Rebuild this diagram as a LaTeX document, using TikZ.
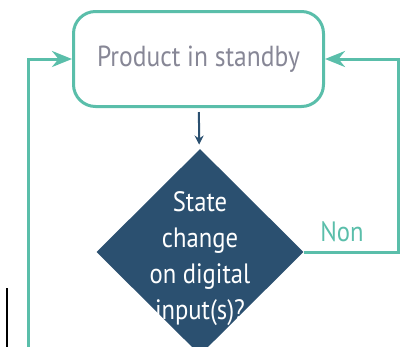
\documentclass[tikz,border=0pt]{standalone}
\usepackage{fontspec}
\setmainfont{PT Sans}
\newfontfamily\estreita[FakeStretch=0.88]{PT Sans}
\usetikzlibrary{shapes.geometric,arrows.meta}
\definecolor{verde}{RGB}{90,190,170}
\definecolor{azul}{RGB}{43,80,112}
\definecolor{cinza}{RGB}{135,135,150}
\begin{document}
\begin{tikzpicture}[x=1pt,y=-1pt]
% Estilos
\tikzset{
  estado/.style={rectangle, rounded corners=22pt, draw=verde, line width=3pt, fill=white, minimum width=250pt, minimum height=95pt, text=cinza, font=\estreita\fontsize{29}{30}\selectfont},
  decisao/.style={diamond, fill=azul, minimum width=207pt, minimum height=206pt, inner sep=0pt},
  pergunta/.style={text=white, align=center, font=\estreita\fontsize{28}{36}\selectfont},
  rotulo/.style={text=verde, font=\estreita\fontsize{28}{30}\selectfont},
  laco/.style={draw=verde, line width=3pt, -{Stealth[length=20pt,width=16pt]}},
  fluxo/.style={draw=azul, line width=2pt, -{Stealth[length=9pt,width=9pt]}, shorten <=4pt, shorten >=5pt}
}

% Moldura
\useasboundingbox (0,0) rectangle (401,346);
\clip (0,0) rectangle (401,346);

% Estado de espera
\node[estado] (standby) at (198.5,59) {Product in standby};

% Decisao
\node[decisao] (decisao) at (200,252) {};
\node[pergunta] (pergunta) at (200,259) {State\\change\\on digital\\input(s)?};

% Rotulo da saida
\node[rotulo] (non) at (342,232) {Non};

% Pontos de retorno
\coordinate (cantoDir) at (398.5,252);
\coordinate (baseEsq) at (28,360);

% Ligacoes
\draw[fluxo] (standby) -- (decisao);
\draw[laco] (decisao.east) -- (cantoDir) |- (standby.east);
\draw[laco] (baseEsq) |- (standby.west);

% Traco lateral
\draw[black, line width=2pt] (7,288) -- (7,350);

\end{tikzpicture}
\end{document}
